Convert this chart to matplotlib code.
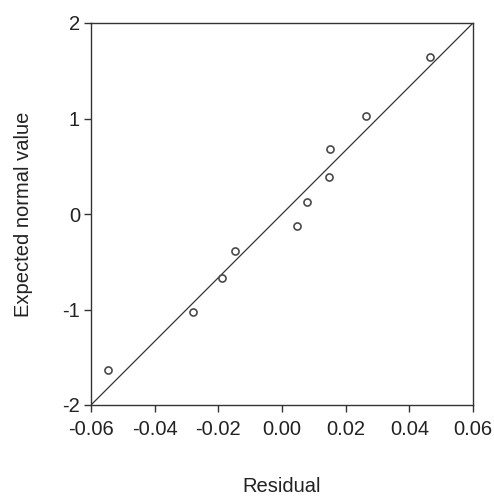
import matplotlib
matplotlib.use("Agg")
import matplotlib.pyplot as plt

plt.rcParams['font.family'] = ['Liberation Sans', 'DejaVu Sans']

residual = [-0.0546, -0.0281, -0.0190, -0.0148, 0.0047, 0.0079, 0.0149, 0.0151, 0.0264, 0.0464]
expected = [-1.638, -1.031, -0.672, -0.383, -0.125, 0.129, 0.387, 0.676, 1.031, 1.641]
line_x = [-0.06, 0.06]
line_y = [-2, 2]
xticks = [-0.06, -0.04, -0.02, 0.00, 0.02, 0.04, 0.06]
yticks = [-2, -1, 0, 1, 2]

fig = plt.figure(figsize=(4.94, 4.96), dpi=100)
ax = fig.add_axes([91/494, 91/496, 382/494, 382/496])
ax.plot(line_x, line_y, color='#333333', lw=0.9)
ax.scatter(residual, expected, s=26, facecolors='white', edgecolors='#4a4a4a', linewidths=1.2, zorder=3)
ax.set_xlim(-0.06, 0.06)
ax.set_ylim(-2, 2)
ax.set_xticks(xticks)
ax.set_xticklabels([f"{t:.2f}" for t in xticks])
ax.set_yticks(yticks)
ax.set_yticklabels([str(t) for t in yticks])
for s in ax.spines.values():
    s.set_color('#333333')
    s.set_linewidth(1.0)
ax.tick_params(direction='out', length=5, width=1, color='#333333', labelsize=14.5, labelcolor='#222222')
ax.tick_params(axis='x', pad=6)
ax.tick_params(axis='y', pad=3)
ax.set_xlabel('Residual', fontsize=14.5, color='#222222')
ax.set_ylabel('Expected normal value', fontsize=14.5, color='#222222')
ax.xaxis.set_label_coords(0.5, -0.188)
ax.yaxis.set_label_coords(-0.152, 0.5)
fig.savefig('out.png', dpi=100)
